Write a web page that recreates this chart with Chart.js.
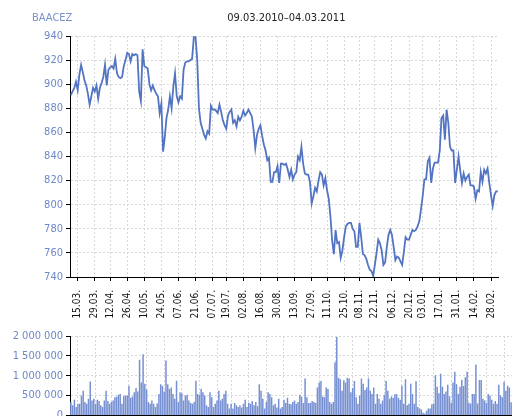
<!DOCTYPE html>
<html><head><meta charset="utf-8">
<script src="https://cdn.jsdelivr.net/npm/chart.js@4.4.1/dist/chart.umd.min.js"></script>
<style>
html,body{margin:0;padding:0;background:#fff;overflow:hidden;width:512px;height:416px;}
#c1{position:absolute;left:0;top:0;}
#c2{position:absolute;left:0;top:325px;}
</style></head><body>
<canvas id="c1" width="512" height="324"></canvas>
<canvas id="c2" width="512" height="100"></canvas>
<script>
const symbol = 'BAACEZ';
const periodLabel = '09.03.2010–04.03.2011';
const firstDay = '2010-03-09';
const lastDay = '2011-03-04';
const exchangeHolidays = ['2010-04-05','2010-07-05','2010-07-06','2010-09-28','2010-10-28','2010-11-17','2010-12-24','2010-12-31'];
const tickDates = ['15.03.2010','29.03.2010','12.04.2010','26.04.2010','10.05.2010','24.05.2010','07.06.2010','21.06.2010','07.07.2010','19.07.2010','02.08.2010','16.08.2010','30.08.2010','13.09.2010','27.09.2010','11.10.2010','25.10.2010','08.11.2010','22.11.2010','06.12.2010','20.12.2010','03.01.2011','17.01.2011','31.01.2011','14.02.2011','28.02.2011'];
const closePrices = [
891,894,897,902,895,908,916,910,903,899,
892,883,890,897,894,899,888,897,901,906,
916,899,912,914,915,913,921,909,906,905,
906,915,920,926,925,919,925,924,925,924,
894,886,929,915,914,913,900,895,899,895,
892,890,876,884,844,856,872,879,890,880,
898,909,890,885,890,888,912,918,919,919,
920,921,939,939,920,880,868,863,858,855,
861,859,882,879,879,878,876,883,877,870,
866,863,874,877,879,868,870,865,873,870,
873,878,874,876,879,876,873,862,847,858,
863,866,857,850,845,837,839,819,819,827,
827,832,818,834,834,833,834,829,823,829,
821,825,827,840,837,848,834,826,825,825,
819,801,807,814,811,820,827,825,816,822,
812,805,790,770,759,779,768,769,756,762,
773,782,784,785,785,780,778,765,765,785,
773,759,758,755,750,746,745,741,750,760,
771,768,762,750,752,765,775,779,775,765,
754,757,756,753,750,761,773,771,771,775,
779,778,779,782,786,796,807,821,821,836,
839,818,830,835,835,835,845,872,874,854,
879,868,848,845,845,818,829,840,828,818,
826,820,823,825,816,816,815,805,812,811,
827,819,829,826,830,818,808,799,808,811,
811];
const volumeThousands = [
336,254,393,213,295,295,500,623,336,295,
418,852,377,418,295,393,361,254,213,377,
623,361,295,336,377,459,470,520,541,295,
480,500,500,746,443,475,582,690,600,1400,
830,1540,800,650,336,295,377,295,213,300,
541,787,746,600,1380,787,664,705,541,418,
870,336,582,560,377,500,520,377,311,295,
336,870,541,520,664,582,500,254,213,582,
459,213,295,377,623,377,418,541,623,295,
172,295,172,311,254,213,254,197,295,393,
213,320,295,361,254,336,230,787,623,418,
172,336,582,541,459,254,295,197,418,172,
213,393,311,443,295,280,336,377,295,336,
520,470,311,930,459,311,311,361,336,311,
705,830,869,475,459,705,664,336,295,336,
1340,1976,951,910,623,885,830,951,930,582,
690,869,459,295,500,930,800,640,705,930,
620,541,705,295,541,418,295,377,520,869,
623,418,475,443,530,541,443,393,750,295,
910,254,295,800,541,295,860,213,172,150,
66,49,115,172,172,280,300,1010,720,560,
1050,720,541,600,770,480,320,830,1100,787,
541,720,900,740,960,1100,320,300,541,541,
1280,300,890,890,418,377,311,541,500,393,
295,361,295,770,500,459,850,620,750,700,
330];

function buildTradingDays(){
  const out=[]; const d=new Date(firstDay+'T12:00:00Z'); const end=new Date(lastDay+'T12:00:00Z');
  while(d<=end){
    const wd=d.getUTCDay(); const iso=d.toISOString().slice(0,10);
    if(wd!==0 && wd!==6 && !exchangeHolidays.includes(iso)){
      const p=iso.split('-'); out.push(p[2]+'.'+p[1]+'.'+p[0]);
    }
    d.setUTCDate(d.getUTCDate()+1);
  }
  return out;
}
const tradingDays = buildTradingDays();
const tickSet = new Set(tickDates);

const FONT = "'DejaVu Sans Condensed','DejaVu Sans',sans-serif";
Chart.defaults.font.family = FONT;
Chart.defaults.font.size = 11;
const BLUE_TXT = '#6d87c8';
const GRID = '#d6d6d6';

function filterTicks(scale){
  scale.ticks = scale.ticks.filter(t => tickSet.has(tradingDays[t.value]));
}
function fmtSpace(v){ return String(v).replace(/\B(?=(\d{3})+(?!\d))/g,' '); }

const headerPlugin = {
  id:'header',
  afterDraw(chart){
    const {ctx, chartArea} = chart;
    ctx.save();
    ctx.font = "11px " + FONT;
    ctx.textBaseline = 'middle';
    ctx.fillStyle = '#7890cc';
    ctx.textAlign = 'left';
    ctx.fillText(symbol, 32, 18);
    ctx.fillStyle = '#222';
    ctx.textAlign = 'center';
    ctx.fillText(periodLabel, (chartArea.left+chartArea.right)/2 + 2, 18);
    ctx.restore();
  }
};

new Chart(document.getElementById('c1'), {
  type:'line',
  data:{ labels: tradingDays, datasets:[{ data: closePrices, borderColor:'#5274c2', borderWidth:1.8, pointRadius:0, tension:0, fill:false }]},
  options:{
    responsive:false, animation:false,
    layout:{ padding:{ top:36, left:0, right:0, bottom:0 } },
    plugins:{ legend:{display:false}, tooltip:{enabled:false}, title:{display:false} },
    scales:{
      x:{
        type:'category', offset:true,
        afterBuildTicks: filterTicks,
        afterFit(s){ s.height = 47; },
        grid:{ color:GRID, offset:false, drawTicks:true, tickLength:4, tickColor:'#000' },
        border:{ display:true, color:'#000', width:1, dash:[2,2] },
        ticks:{ autoSkip:false, minRotation:90, maxRotation:90, padding:9, color:'#111', font:{size:10},
          callback(v){ return tradingDays[v].slice(0,6); } }
      },
      y:{
        min:740, max:940,
        afterFit(s){ s.width = 70; },
        grid:{ color:GRID, drawTicks:true, tickLength:4, tickColor:'#000' },
        border:{ display:true, color:'#000', width:1, dash:[2,2] },
        ticks:{ stepSize:20, padding:3, color:BLUE_TXT, font:{size:11} }
      }
    }
  },
  plugins:[headerPlugin]
});

new Chart(document.getElementById('c2'), {
  type:'bar',
  data:{ labels: tradingDays, datasets:[{ data: volumeThousands.map(v=>v*1000), backgroundColor:'#7690d2', borderWidth:0, barPercentage:0.85, categoryPercentage:1 }]},
  options:{
    responsive:false, animation:false,
    layout:{ padding:{ top:11, left:0, right:0, bottom:0 } },
    plugins:{ legend:{display:false}, tooltip:{enabled:false} },
    scales:{
      x:{
        type:'category', offset:true,
        afterBuildTicks: filterTicks,
        afterFit(s){ s.height = 8; },
        grid:{ color:GRID, offset:false, drawTicks:true, tickLength:4, tickColor:'#000' },
        border:{ display:true, color:'#000', width:1, dash:[2,2] },
        ticks:{ display:false, autoSkip:false }
      },
      y:{
        min:0, max:2000000,
        afterFit(s){ s.width = 70; },
        grid:{ color:GRID, drawTicks:true, tickLength:4, tickColor:'#000' },
        border:{ display:true, color:'#000', width:1, dash:[2,2] },
        ticks:{ stepSize:500000, padding:3, color:BLUE_TXT, font:{size:11}, callback(v){ return fmtSpace(v); } }
      }
    }
  }
});
</script>
</body></html>
